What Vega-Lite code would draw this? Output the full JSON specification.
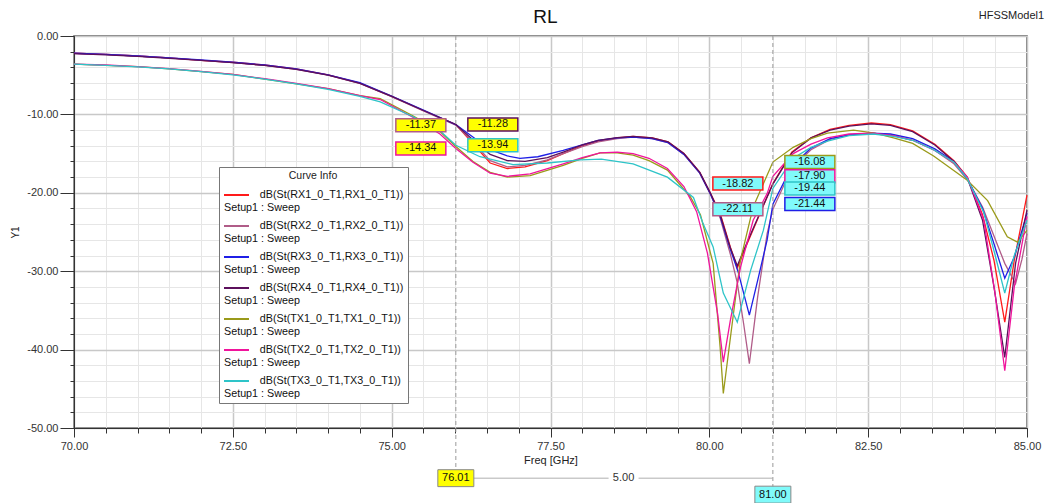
{
  "$schema": "https://vega.github.io/schema/vega-lite/v6.json",
  "width": 953,
  "height": 392,
  "autosize": "none",
  "padding": {"left": 74, "top": 36, "right": 29, "bottom": 75},
  "background": "white",
  "title": {"text": "RL", "fontSize": 19, "fontWeight": "normal", "color": "#111", "offset": -17, "dx": -5, "anchor": "middle", "font": "Liberation Sans"},
  "config": {
    "font": "Liberation Sans",
    "view": {"stroke": "#555", "strokeWidth": 1.5},
    "axis": {"labelFont": "Liberation Sans", "labelFontSize": 11, "labelColor": "#333", "tickColor": "#333", "domainColor": "#333", "titleFont": "Liberation Sans", "titleFontWeight": "normal", "titleColor": "#222", "labelFlush": false, "labelOverlap": false}
  },
  "datasets": {
    "c": [
      {"s":"RX1","f":70,"v":-2.2},{"s":"RX1","f":70.5,"v":-2.35},{"s":"RX1","f":71,"v":-2.55},{"s":"RX1","f":71.5,"v":-2.8},{"s":"RX1","f":72,"v":-3.1},{"s":"RX1","f":72.5,"v":-3.35},{"s":"RX1","f":73,"v":-3.7},{"s":"RX1","f":73.5,"v":-4.2},{"s":"RX1","f":74,"v":-4.95},{"s":"RX1","f":74.5,"v":-6.0},{"s":"RX1","f":75,"v":-7.7},{"s":"RX1","f":75.5,"v":-9.5},{"s":"RX1","f":76.01,"v":-11.3},{"s":"RX1","f":76.3,"v":-13.9},{"s":"RX1","f":76.55,"v":-16.2},{"s":"RX1","f":76.82,"v":-16.9},{"s":"RX1","f":77.1,"v":-16.7},{"s":"RX1","f":77.45,"v":-15.9},{"s":"RX1","f":77.7,"v":-15.0},{"s":"RX1","f":78,"v":-14.0},{"s":"RX1","f":78.25,"v":-13.4},{"s":"RX1","f":78.55,"v":-13.0},{"s":"RX1","f":78.8,"v":-12.8},{"s":"RX1","f":79.1,"v":-13.0},{"s":"RX1","f":79.35,"v":-13.5},{"s":"RX1","f":79.6,"v":-15.0},{"s":"RX1","f":79.85,"v":-17.4},{"s":"RX1","f":80.02,"v":-20.1},{"s":"RX1","f":80.17,"v":-22.6},{"s":"RX1","f":80.33,"v":-26.9},{"s":"RX1","f":80.44,"v":-29.6},{"s":"RX1","f":80.6,"v":-26.4},{"s":"RX1","f":80.8,"v":-22.6},{"s":"RX1","f":81,"v":-18.82},{"s":"RX1","f":81.3,"v":-14.8},{"s":"RX1","f":81.6,"v":-13.0},{"s":"RX1","f":81.9,"v":-11.9},{"s":"RX1","f":82.2,"v":-11.4},{"s":"RX1","f":82.55,"v":-11.1},{"s":"RX1","f":82.85,"v":-11.3},{"s":"RX1","f":83.2,"v":-12.1},{"s":"RX1","f":83.55,"v":-13.8},{"s":"RX1","f":83.85,"v":-15.9},{"s":"RX1","f":84.06,"v":-18.0},{"s":"RX1","f":84.3,"v":-22.8},{"s":"RX1","f":84.48,"v":-28.6},{"s":"RX1","f":84.65,"v":-36.5},{"s":"RX1","f":84.8,"v":-28.6},{"s":"RX1","f":85,"v":-20.3},

      {"s":"RX2","f":70,"v":-2.2},{"s":"RX2","f":70.5,"v":-2.35},{"s":"RX2","f":71,"v":-2.55},{"s":"RX2","f":71.5,"v":-2.8},{"s":"RX2","f":72,"v":-3.1},{"s":"RX2","f":72.5,"v":-3.4},{"s":"RX2","f":73,"v":-3.75},{"s":"RX2","f":73.5,"v":-4.25},{"s":"RX2","f":74,"v":-5.0},{"s":"RX2","f":74.5,"v":-6.05},{"s":"RX2","f":75,"v":-7.75},{"s":"RX2","f":75.5,"v":-9.55},{"s":"RX2","f":76.01,"v":-11.37},{"s":"RX2","f":76.3,"v":-13.7},{"s":"RX2","f":76.55,"v":-15.9},{"s":"RX2","f":76.82,"v":-16.7},{"s":"RX2","f":77.1,"v":-16.5},{"s":"RX2","f":77.45,"v":-15.8},{"s":"RX2","f":77.7,"v":-15.0},{"s":"RX2","f":78,"v":-14.1},{"s":"RX2","f":78.25,"v":-13.5},{"s":"RX2","f":78.55,"v":-13.1},{"s":"RX2","f":78.8,"v":-12.9},{"s":"RX2","f":79.1,"v":-13.1},{"s":"RX2","f":79.35,"v":-13.6},{"s":"RX2","f":79.6,"v":-15.1},{"s":"RX2","f":79.85,"v":-17.5},{"s":"RX2","f":80.02,"v":-20.2},{"s":"RX2","f":80.17,"v":-23.2},{"s":"RX2","f":80.33,"v":-27.8},{"s":"RX2","f":80.44,"v":-31.5},{"s":"RX2","f":80.54,"v":-36.7},{"s":"RX2","f":80.63,"v":-41.8},{"s":"RX2","f":80.76,"v":-33.3},{"s":"RX2","f":80.91,"v":-25.2},{"s":"RX2","f":81,"v":-22.11},{"s":"RX2","f":81.3,"v":-16.8},{"s":"RX2","f":81.6,"v":-14.5},{"s":"RX2","f":81.9,"v":-13.2},{"s":"RX2","f":82.2,"v":-12.6},{"s":"RX2","f":82.55,"v":-12.4},{"s":"RX2","f":82.85,"v":-12.6},{"s":"RX2","f":83.2,"v":-13.3},{"s":"RX2","f":83.55,"v":-14.6},{"s":"RX2","f":83.85,"v":-16.3},{"s":"RX2","f":84.06,"v":-18.3},{"s":"RX2","f":84.3,"v":-21.8},{"s":"RX2","f":84.48,"v":-25.5},{"s":"RX2","f":84.65,"v":-29.0},{"s":"RX2","f":84.82,"v":-31.6},{"s":"RX2","f":84.92,"v":-28.5},{"s":"RX2","f":85,"v":-25.2},

      {"s":"RX3","f":70,"v":-2.2},{"s":"RX3","f":70.5,"v":-2.35},{"s":"RX3","f":71,"v":-2.55},{"s":"RX3","f":71.5,"v":-2.8},{"s":"RX3","f":72,"v":-3.05},{"s":"RX3","f":72.5,"v":-3.35},{"s":"RX3","f":73,"v":-3.7},{"s":"RX3","f":73.5,"v":-4.2},{"s":"RX3","f":74,"v":-4.95},{"s":"RX3","f":74.5,"v":-5.95},{"s":"RX3","f":75,"v":-7.65},{"s":"RX3","f":75.5,"v":-9.45},{"s":"RX3","f":76.01,"v":-11.3},{"s":"RX3","f":76.3,"v":-13.0},{"s":"RX3","f":76.55,"v":-14.5},{"s":"RX3","f":76.82,"v":-15.3},{"s":"RX3","f":77.02,"v":-15.6},{"s":"RX3","f":77.3,"v":-15.4},{"s":"RX3","f":77.7,"v":-14.6},{"s":"RX3","f":78,"v":-13.9},{"s":"RX3","f":78.25,"v":-13.3},{"s":"RX3","f":78.55,"v":-13.0},{"s":"RX3","f":78.8,"v":-12.9},{"s":"RX3","f":79.1,"v":-13.1},{"s":"RX3","f":79.35,"v":-13.6},{"s":"RX3","f":79.6,"v":-15.1},{"s":"RX3","f":79.85,"v":-17.5},{"s":"RX3","f":80.02,"v":-20.2},{"s":"RX3","f":80.17,"v":-23.0},{"s":"RX3","f":80.33,"v":-27.2},{"s":"RX3","f":80.45,"v":-30.0},{"s":"RX3","f":80.54,"v":-32.8},{"s":"RX3","f":80.63,"v":-35.6},{"s":"RX3","f":80.76,"v":-31.2},{"s":"RX3","f":80.91,"v":-26.0},{"s":"RX3","f":81,"v":-21.44},{"s":"RX3","f":81.3,"v":-16.6},{"s":"RX3","f":81.6,"v":-14.3},{"s":"RX3","f":81.9,"v":-13.1},{"s":"RX3","f":82.2,"v":-12.6},{"s":"RX3","f":82.55,"v":-12.4},{"s":"RX3","f":82.85,"v":-12.5},{"s":"RX3","f":83.2,"v":-13.1},{"s":"RX3","f":83.55,"v":-14.4},{"s":"RX3","f":83.85,"v":-16.0},{"s":"RX3","f":84.06,"v":-18.2},{"s":"RX3","f":84.3,"v":-22.0},{"s":"RX3","f":84.48,"v":-26.5},{"s":"RX3","f":84.65,"v":-30.9},{"s":"RX3","f":84.8,"v":-28.2},{"s":"RX3","f":85,"v":-22.6},

      {"s":"RX4","f":70,"v":-2.25},{"s":"RX4","f":70.5,"v":-2.4},{"s":"RX4","f":71,"v":-2.6},{"s":"RX4","f":71.5,"v":-2.85},{"s":"RX4","f":72,"v":-3.1},{"s":"RX4","f":72.5,"v":-3.4},{"s":"RX4","f":73,"v":-3.75},{"s":"RX4","f":73.5,"v":-4.25},{"s":"RX4","f":74,"v":-5.0},{"s":"RX4","f":74.5,"v":-6.05},{"s":"RX4","f":75,"v":-7.7},{"s":"RX4","f":75.5,"v":-9.5},{"s":"RX4","f":76.01,"v":-11.28},{"s":"RX4","f":76.3,"v":-13.4},{"s":"RX4","f":76.55,"v":-15.1},{"s":"RX4","f":76.82,"v":-15.9},{"s":"RX4","f":77.1,"v":-16.0},{"s":"RX4","f":77.45,"v":-15.5},{"s":"RX4","f":77.7,"v":-14.8},{"s":"RX4","f":78,"v":-13.9},{"s":"RX4","f":78.25,"v":-13.3},{"s":"RX4","f":78.55,"v":-12.95},{"s":"RX4","f":78.8,"v":-12.8},{"s":"RX4","f":79.1,"v":-13.0},{"s":"RX4","f":79.35,"v":-13.5},{"s":"RX4","f":79.6,"v":-15.0},{"s":"RX4","f":79.85,"v":-17.4},{"s":"RX4","f":80.02,"v":-20.1},{"s":"RX4","f":80.17,"v":-22.8},{"s":"RX4","f":80.33,"v":-27.0},{"s":"RX4","f":80.44,"v":-29.3},{"s":"RX4","f":80.6,"v":-26.2},{"s":"RX4","f":80.8,"v":-22.5},{"s":"RX4","f":81,"v":-18.9},{"s":"RX4","f":81.3,"v":-14.9},{"s":"RX4","f":81.6,"v":-13.0},{"s":"RX4","f":81.9,"v":-12.0},{"s":"RX4","f":82.2,"v":-11.5},{"s":"RX4","f":82.55,"v":-11.2},{"s":"RX4","f":82.85,"v":-11.4},{"s":"RX4","f":83.2,"v":-12.2},{"s":"RX4","f":83.55,"v":-13.9},{"s":"RX4","f":83.85,"v":-16.0},{"s":"RX4","f":84.06,"v":-18.1},{"s":"RX4","f":84.3,"v":-23.5},{"s":"RX4","f":84.48,"v":-32.0},{"s":"RX4","f":84.65,"v":-41.0},{"s":"RX4","f":84.82,"v":-29.0},{"s":"RX4","f":85,"v":-22.2},

      {"s":"TX1","f":70,"v":-3.6},{"s":"TX1","f":70.5,"v":-3.75},{"s":"TX1","f":71,"v":-3.9},{"s":"TX1","f":71.5,"v":-4.2},{"s":"TX1","f":72,"v":-4.55},{"s":"TX1","f":72.5,"v":-4.9},{"s":"TX1","f":73,"v":-5.5},{"s":"TX1","f":73.5,"v":-6.1},{"s":"TX1","f":74,"v":-6.7},{"s":"TX1","f":74.5,"v":-7.6},{"s":"TX1","f":74.82,"v":-8.0},{"s":"TX1","f":75.34,"v":-10.2},{"s":"TX1","f":75.76,"v":-12.2},{"s":"TX1","f":76.01,"v":-14.1},{"s":"TX1","f":76.28,"v":-16.0},{"s":"TX1","f":76.55,"v":-17.4},{"s":"TX1","f":76.82,"v":-18.0},{"s":"TX1","f":77.18,"v":-17.8},{"s":"TX1","f":77.7,"v":-16.5},{"s":"TX1","f":78,"v":-15.6},{"s":"TX1","f":78.28,"v":-14.9},{"s":"TX1","f":78.55,"v":-14.9},{"s":"TX1","f":78.8,"v":-15.2},{"s":"TX1","f":79.05,"v":-15.9},{"s":"TX1","f":79.34,"v":-17.1},{"s":"TX1","f":79.7,"v":-20.5},{"s":"TX1","f":79.86,"v":-22.8},{"s":"TX1","f":80.06,"v":-29.0},{"s":"TX1","f":80.17,"v":-39.7},{"s":"TX1","f":80.22,"v":-45.6},{"s":"TX1","f":80.38,"v":-35.4},{"s":"TX1","f":80.49,"v":-28.6},{"s":"TX1","f":80.69,"v":-21.8},{"s":"TX1","f":81,"v":-16.08},{"s":"TX1","f":81.32,"v":-14.2},{"s":"TX1","f":81.6,"v":-13.1},{"s":"TX1","f":81.86,"v":-12.4},{"s":"TX1","f":82.27,"v":-12.0},{"s":"TX1","f":82.6,"v":-12.4},{"s":"TX1","f":82.9,"v":-13.0},{"s":"TX1","f":83.2,"v":-13.7},{"s":"TX1","f":83.53,"v":-15.3},{"s":"TX1","f":84.06,"v":-18.4},{"s":"TX1","f":84.38,"v":-21.0},{"s":"TX1","f":84.69,"v":-25.6},{"s":"TX1","f":84.85,"v":-26.3},{"s":"TX1","f":85,"v":-24.8},

      {"s":"TX2","f":70,"v":-3.6},{"s":"TX2","f":70.5,"v":-3.7},{"s":"TX2","f":71,"v":-3.9},{"s":"TX2","f":71.5,"v":-4.15},{"s":"TX2","f":72,"v":-4.5},{"s":"TX2","f":72.5,"v":-4.9},{"s":"TX2","f":73,"v":-5.45},{"s":"TX2","f":73.5,"v":-6.05},{"s":"TX2","f":74,"v":-6.7},{"s":"TX2","f":74.5,"v":-7.6},{"s":"TX2","f":74.82,"v":-8.1},{"s":"TX2","f":75.34,"v":-10.4},{"s":"TX2","f":75.76,"v":-12.5},{"s":"TX2","f":76.01,"v":-14.34},{"s":"TX2","f":76.28,"v":-16.1},{"s":"TX2","f":76.55,"v":-17.5},{"s":"TX2","f":76.82,"v":-17.9},{"s":"TX2","f":77.18,"v":-17.6},{"s":"TX2","f":77.7,"v":-16.3},{"s":"TX2","f":78,"v":-15.5},{"s":"TX2","f":78.28,"v":-14.9},{"s":"TX2","f":78.55,"v":-14.8},{"s":"TX2","f":78.8,"v":-15.0},{"s":"TX2","f":79.05,"v":-15.6},{"s":"TX2","f":79.34,"v":-16.9},{"s":"TX2","f":79.6,"v":-19.2},{"s":"TX2","f":79.8,"v":-22.4},{"s":"TX2","f":79.97,"v":-27.7},{"s":"TX2","f":80.13,"v":-35.4},{"s":"TX2","f":80.22,"v":-41.6},{"s":"TX2","f":80.33,"v":-36.3},{"s":"TX2","f":80.49,"v":-29.5},{"s":"TX2","f":80.69,"v":-23.5},{"s":"TX2","f":80.91,"v":-20.1},{"s":"TX2","f":81,"v":-17.9},{"s":"TX2","f":81.32,"v":-15.0},{"s":"TX2","f":81.6,"v":-13.8},{"s":"TX2","f":81.86,"v":-13.0},{"s":"TX2","f":82.2,"v":-12.5},{"s":"TX2","f":82.58,"v":-12.4},{"s":"TX2","f":82.9,"v":-12.7},{"s":"TX2","f":83.2,"v":-13.3},{"s":"TX2","f":83.53,"v":-14.5},{"s":"TX2","f":83.85,"v":-16.1},{"s":"TX2","f":84.06,"v":-18.0},{"s":"TX2","f":84.32,"v":-23.5},{"s":"TX2","f":84.5,"v":-33.0},{"s":"TX2","f":84.65,"v":-42.7},{"s":"TX2","f":84.8,"v":-32.0},{"s":"TX2","f":85,"v":-23.0},

      {"s":"TX3","f":70,"v":-3.6},{"s":"TX3","f":70.5,"v":-3.75},{"s":"TX3","f":71,"v":-3.95},{"s":"TX3","f":71.5,"v":-4.2},{"s":"TX3","f":72,"v":-4.55},{"s":"TX3","f":72.5,"v":-4.95},{"s":"TX3","f":73,"v":-5.5},{"s":"TX3","f":73.5,"v":-6.1},{"s":"TX3","f":74,"v":-6.8},{"s":"TX3","f":74.5,"v":-7.7},{"s":"TX3","f":74.82,"v":-8.4},{"s":"TX3","f":75.34,"v":-10.3},{"s":"TX3","f":75.76,"v":-12.1},{"s":"TX3","f":76.01,"v":-13.94},{"s":"TX3","f":76.39,"v":-15.4},{"s":"TX3","f":76.91,"v":-16.4},{"s":"TX3","f":77.45,"v":-16.2},{"s":"TX3","f":77.97,"v":-15.8},{"s":"TX3","f":78.3,"v":-15.7},{"s":"TX3","f":78.8,"v":-16.3},{"s":"TX3","f":79.34,"v":-18.0},{"s":"TX3","f":79.75,"v":-20.6},{"s":"TX3","f":79.9,"v":-23.9},{"s":"TX3","f":80.06,"v":-26.9},{"s":"TX3","f":80.22,"v":-32.8},{"s":"TX3","f":80.44,"v":-36.5},{"s":"TX3","f":80.65,"v":-29.9},{"s":"TX3","f":80.85,"v":-24.8},{"s":"TX3","f":81,"v":-19.44},{"s":"TX3","f":81.32,"v":-15.6},{"s":"TX3","f":81.6,"v":-14.2},{"s":"TX3","f":81.86,"v":-13.4},{"s":"TX3","f":82.2,"v":-12.7},{"s":"TX3","f":82.58,"v":-12.5},{"s":"TX3","f":82.9,"v":-12.8},{"s":"TX3","f":83.2,"v":-13.3},{"s":"TX3","f":83.53,"v":-14.5},{"s":"TX3","f":83.85,"v":-16.1},{"s":"TX3","f":84.06,"v":-18.2},{"s":"TX3","f":84.32,"v":-22.5},{"s":"TX3","f":84.5,"v":-28.0},{"s":"TX3","f":84.65,"v":-32.8},{"s":"TX3","f":84.8,"v":-28.0},{"s":"TX3","f":85,"v":-23.5}
    ],
    "mk": [
      {"s":"RX2","f":76.01,"v":-11.37,"t":"-11.37","side":"L"},
      {"s":"RX4","f":76.01,"v":-11.28,"t":"-11.28","side":"R"},
      {"s":"TX2","f":76.01,"v":-14.34,"t":"-14.34","side":"L"},
      {"s":"TX3","f":76.01,"v":-13.94,"t":"-13.94","side":"R"},
      {"s":"TX1","f":81,"v":-16.08,"t":"-16.08","side":"R"},
      {"s":"TX2","f":81,"v":-17.90,"t":"-17.90","side":"R"},
      {"s":"RX1","f":81,"v":-18.82,"t":"-18.82","side":"L"},
      {"s":"TX3","f":81,"v":-19.44,"t":"-19.44","side":"R"},
      {"s":"RX3","f":81,"v":-21.44,"t":"-21.44","side":"R"},
      {"s":"RX2","f":81,"v":-22.11,"t":"-22.11","side":"L"}
    ],
    "vm": [
      {"f":76.01,"v1":0,"v2":-56.4,"t":"76.01"},
      {"f":81,"v1":0,"v2":-58.5,"t":"81.00"}
    ],
    "dl": [
      {"f1":76.01,"f2":81,"v":-56.4,"fm":78.65,"t":"5.00"}
    ],
    "nm": [
      {"t":"HFSSModel1","f":85.27,"v":2.55}
    ]
  },
  "resolve": {"axis": {"x": "independent", "y": "independent"}},
  "layer": [
    {
      "data": {"name": "c"},
      "mark": {"type": "line", "opacity": 0},
      "encoding": {
        "x": {"field": "f", "type": "quantitative", "scale": {"domain": [70, 85], "nice": false, "zero": false},
          "axis": {"orient": "bottom", "values": [70,70.5,71,71.5,72,72.5,73,73.5,74,74.5,75,75.5,76,76.5,77,77.5,78,78.5,79,79.5,80,80.5,81,81.5,82,82.5,83,83.5,84,84.5,85], "grid": true, "gridColor": "#e6e6e6", "gridWidth": 1, "tickSize": 5, "labels": false, "domain": false, "title": null}},
        "y": {"field": "v", "type": "quantitative", "scale": {"domain": [-50, 0], "nice": false, "zero": false},
          "axis": {"orient": "left", "values": [0,-2,-4,-6,-8,-10,-12,-14,-16,-18,-20,-22,-24,-26,-28,-30,-32,-34,-36,-38,-40,-42,-44,-46,-48,-50], "grid": true, "gridColor": "#e6e6e6", "gridWidth": 1, "tickSize": 4, "labels": false, "domain": false, "title": null}},
        "detail": {"field": "s", "type": "nominal"}
      }
    },
    {
      "data": {"name": "c"},
      "mark": {"type": "line", "strokeWidth": 1.3},
      "encoding": {
        "x": {"field": "f", "type": "quantitative", "scale": {"domain": [70, 85], "nice": false, "zero": false},
          "axis": {"orient": "bottom", "values": [70, 72.5, 75, 77.5, 80, 82.5, 85], "format": ".2f", "grid": true, "gridColor": "#c8c8c8", "gridWidth": 1.5, "tickSize": 9, "labelPadding": 3, "title": "Freq [GHz]", "titleFontSize": 11, "titlePadding": 3}},
        "y": {"field": "v", "type": "quantitative", "scale": {"domain": [-50, 0], "nice": false, "zero": false},
          "axis": {"orient": "left", "values": [0, -10, -20, -30, -40, -50], "format": ".2f", "labelExpr": "replace(datum.label, '\u2212', '-')", "grid": true, "gridColor": "#c8c8c8", "gridWidth": 1.5, "tickSize": 14, "labelPadding": 2, "title": "Y1", "titleFontSize": 10, "titlePadding": 6}},
        "color": {"field": "s", "type": "nominal",
          "scale": {"domain": ["RX1","RX2","RX3","RX4","TX1","TX2","TX3"], "range": ["#ff1a1a","#b05c88","#1f1fe6","#5c105c","#9a9a1a","#f0149c","#2ec4c8"]},
          "legend": {"orient": "none", "legendX": 145, "legendY": 131, "title": "Curve Info", "titleAnchor": "middle", "titleFontSize": 10.5, "titleFontWeight": "normal", "titleColor": "#222", "titlePadding": 0, "fillColor": "white", "strokeColor": "#777", "padding": 4, "symbolType": "stroke", "symbolSize": 625, "symbolStrokeWidth": 2, "labelFontSize": 10.75, "labelColor": "#111", "labelLimit": 400, "labelOffset": -26, "labelBaseline": "middle", "labelLineHeight": 13.5, "rowPadding": 0,
            "labelExpr": "['\u200b\u00a0\u00a0\u00a0\u00a0\u00a0\u00a0\u00a0\u00a0\u00a0\u00a0\u00a0\u00a0dB(St(' + datum.label + '_0_T1,' + datum.label + '_0_T1))', 'Setup1 : Sweep']"}}
      }
    },
    {
      "data": {"name": "vm"},
      "mark": {"type": "rule", "color": "#9a9a9a", "strokeDash": [4, 3], "strokeWidth": 1},
      "encoding": {
        "x": {"field": "f", "type": "quantitative", "axis": null},
        "y": {"field": "v1", "type": "quantitative", "axis": null},
        "y2": {"field": "v2"}
      }
    },
    {
      "data": {"name": "mk"},
      "transform": [{"filter": "datum.side === 'L'"}],
      "mark": {"type": "point", "shape": "M-1,-0.26L1,-0.26L1,0.26L-1,0.26Z", "size": 2500, "filled": true, "opacity": 1, "strokeWidth": 1.5, "xOffset": -35},
      "encoding": {
        "x": {"field": "f", "type": "quantitative", "axis": null},
        "y": {"field": "v", "type": "quantitative", "axis": null},
        "fill": {"condition": {"test": "datum.f < 78", "value": "#ffff00"}, "value": "#80fafa"},
        "stroke": {"field": "s", "type": "nominal", "scale": {"domain": ["RX1","RX2","RX3","RX4","TX1","TX2","TX3"], "range": ["#ff1a1a","#b05c88","#1f1fe6","#5c105c","#9a9a1a","#f0149c","#2ec4c8"]}, "legend": null}
      }
    },
    {
      "data": {"name": "mk"},
      "transform": [{"filter": "datum.side === 'R'"}],
      "mark": {"type": "point", "shape": "M-1,-0.26L1,-0.26L1,0.26L-1,0.26Z", "size": 2500, "filled": true, "opacity": 1, "strokeWidth": 1.5, "xOffset": 37},
      "encoding": {
        "x": {"field": "f", "type": "quantitative", "axis": null},
        "y": {"field": "v", "type": "quantitative", "axis": null},
        "fill": {"condition": {"test": "datum.f < 78", "value": "#ffff00"}, "value": "#80fafa"},
        "stroke": {"field": "s", "type": "nominal", "legend": null}
      }
    },
    {
      "data": {"name": "mk"},
      "transform": [{"filter": "datum.side === 'L'"}],
      "mark": {"type": "text", "fontSize": 11, "color": "#111", "align": "center", "baseline": "middle", "dx": -35},
      "encoding": {
        "x": {"field": "f", "type": "quantitative", "axis": null},
        "y": {"field": "v", "type": "quantitative", "axis": null},
        "text": {"field": "t", "type": "nominal"}
      }
    },
    {
      "data": {"name": "mk"},
      "transform": [{"filter": "datum.side === 'R'"}],
      "mark": {"type": "text", "fontSize": 11, "color": "#111", "align": "center", "baseline": "middle", "dx": 37},
      "encoding": {
        "x": {"field": "f", "type": "quantitative", "axis": null},
        "y": {"field": "v", "type": "quantitative", "axis": null},
        "text": {"field": "t", "type": "nominal"}
      }
    },
    {
      "data": {"name": "dl"},
      "mark": {"type": "rule", "color": "#b0b0b0", "strokeWidth": 1},
      "encoding": {
        "x": {"field": "f1", "type": "quantitative", "axis": null},
        "x2": {"field": "f2"},
        "y": {"field": "v", "type": "quantitative", "axis": null}
      }
    },
    {
      "data": {"name": "dl"},
      "mark": {"type": "point", "shape": "square", "size": 900, "filled": true, "color": "white", "opacity": 1},
      "encoding": {
        "x": {"field": "fm", "type": "quantitative", "axis": null},
        "y": {"field": "v", "type": "quantitative", "axis": null}
      }
    },
    {
      "data": {"name": "dl"},
      "mark": {"type": "text", "fontSize": 11, "color": "#333", "align": "center", "baseline": "middle"},
      "encoding": {
        "x": {"field": "fm", "type": "quantitative", "axis": null},
        "y": {"field": "v", "type": "quantitative", "axis": null},
        "text": {"field": "t", "type": "nominal"}
      }
    },
    {
      "data": {"name": "vm"},
      "mark": {"type": "point", "shape": "M-1,-0.47L1,-0.47L1,0.47L-1,0.47Z", "size": 1296, "filled": true, "opacity": 1, "stroke": "#888", "strokeWidth": 1},
      "encoding": {
        "x": {"field": "f", "type": "quantitative", "axis": null},
        "y": {"field": "v2", "type": "quantitative", "axis": null},
        "fill": {"condition": {"test": "datum.f < 78", "value": "#ffff00"}, "value": "#80fafa"}
      }
    },
    {
      "data": {"name": "vm"},
      "mark": {"type": "text", "fontSize": 11, "color": "#111", "align": "center", "baseline": "middle"},
      "encoding": {
        "x": {"field": "f", "type": "quantitative", "axis": null},
        "y": {"field": "v2", "type": "quantitative", "axis": null},
        "text": {"field": "t", "type": "nominal"}
      }
    },
    {
      "data": {"name": "nm"},
      "mark": {"type": "text", "fontSize": 11, "color": "#222", "align": "right", "baseline": "middle"},
      "encoding": {
        "x": {"field": "f", "type": "quantitative", "axis": null},
        "y": {"field": "v", "type": "quantitative", "axis": null},
        "text": {"field": "t", "type": "nominal"}
      }
    }
  ]
}
